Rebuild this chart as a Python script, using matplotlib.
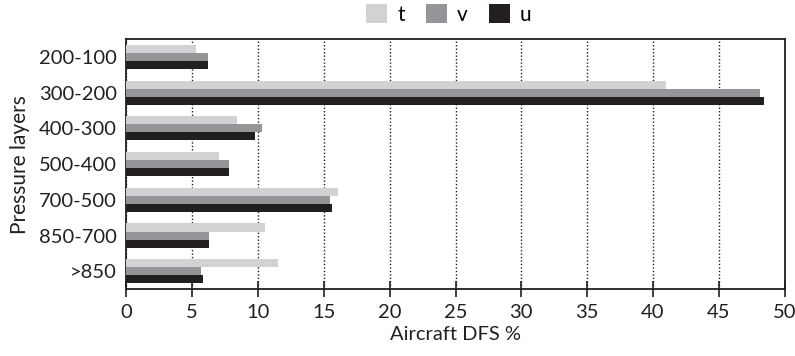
import matplotlib
matplotlib.use("Agg")
import matplotlib.pyplot as plt
import numpy as np

plt.rcParams['font.family'] = ['Lato', 'DejaVu Sans']

layers = ['200-100', '300-200', '400-300', '500-400', '700-500', '850-700', '>850']
t_vals = [5.3, 41.0, 8.4, 7.0, 16.1, 10.5, 11.5]
v_vals = [6.2, 48.1, 10.3, 7.8, 15.5, 6.3, 5.7]
u_vals = [6.2, 48.4, 9.8, 7.8, 15.6, 6.3, 5.8]
xticks = [0, 5, 10, 15, 20, 25, 30, 35, 40, 45, 50]

fig = plt.figure(figsize=(7.95, 3.56), dpi=100)
ax = fig.add_axes([0.159, 0.188, 0.828, 0.702])

y = np.arange(len(layers))
h = 0.225
ax.barh(y - h, t_vals, height=h, color='#d1d2d4', label='t', zorder=3)
ax.barh(y, v_vals, height=h, color='#939598', label='v', zorder=3)
ax.barh(y + h, u_vals, height=h, color='#231f20', label='u', zorder=3)

ax.set_xlim(0, 50)
ax.set_ylim(6.5, -0.5)
ax.set_xticks(xticks)
ax.set_yticks(y)
ax.set_yticklabels(layers)
ax.grid(axis='x', linestyle=(0, (1, 1.5)), color='#231f20', linewidth=1, zorder=0)
ax.tick_params(axis='y', length=0, labelsize=14.5, pad=7, colors='#231f20')
ax.tick_params(axis='x', length=11, width=1.2, labelsize=14.5, colors='#231f20',
               direction='inout', pad=5)
for s in ax.spines.values():
    s.set_linewidth(1.3)
    s.set_color('#231f20')
ax.set_xlabel('Aircraft DFS %', fontsize=14.5, color='#231f20', labelpad=4)
ax.set_ylabel('Pressure layers', fontsize=15, color='#231f20', labelpad=6)

ax.legend(loc='lower center', bbox_to_anchor=(0.49, 1.0), ncol=3, frameon=False,
          fontsize=15, handlelength=1.0, handleheight=1.0, columnspacing=1.0,
          handletextpad=0.5, borderaxespad=0.3)

fig.savefig('out.png', dpi=100)
